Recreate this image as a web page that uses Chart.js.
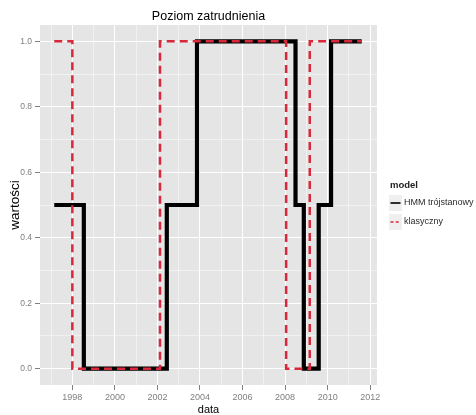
<!DOCTYPE html>
<html>
<head>
<meta charset="utf-8">
<script src="https://cdn.jsdelivr.net/npm/chart.js@4"></script>
<style>
  html, body { margin: 0; padding: 0; background: #ffffff; }
  #wrap { width: 476px; height: 415px; }
</style>
</head>
<body>
<div id="wrap"><canvas id="c" width="476" height="415"></canvas></div>
<script>
// ---- data ----
const chartTitle = "Poziom zatrudnienia";
const xTitle = "data";
const yTitle = "wartości";
const legendTitle = "model";
const seriesNames = ["HMM trójstanowy", "klasyczny"];

// step change dates (decimal years) and the value that holds from that date on
const hmmDates  = [1997.15, 1998.54, 2002.44, 2003.86, 2008.49, 2008.88, 2009.58, 2010.16, 2011.6];
const hmmValues = [0.5,     0.0,     0.5,     1.0,     0.5,     0.0,     0.5,     1.0,     1.0];

const classicDates  = [1997.15, 1998.0, 2002.12, 2008.05, 2009.16, 2011.6];
const classicValues = [1.0,     0.0,    1.0,     0.0,     1.0,     1.0];

const xTickYears = [1997, 1998, 1999, 2000, 2001, 2002, 2003, 2004, 2005, 2006, 2007, 2008, 2009, 2010, 2011, 2012];
const yTickValues = [0, 0.1, 0.2, 0.3, 0.4, 0.5, 0.6, 0.7, 0.8, 0.9, 1.0];

const FONT = "'Liberation Sans', Arial, Helvetica, sans-serif";
const RED = "#d8283c";

function toPoints(xs, ys) { return xs.map((x, i) => ({ x: x, y: ys[i] })); }
function isMajorX(v) { return Math.round(v) % 2 === 0; }
function isMajorY(v) { return Math.round(v * 10) % 2 === 0; }

const panelPlugin = {
  id: 'panel',
  beforeDraw(chart) {
    const a = chart.chartArea, ctx = chart.ctx;
    ctx.save();
    ctx.fillStyle = '#e5e5e5';
    ctx.fillRect(a.left, a.top, a.right - a.left, a.bottom - a.top);
    ctx.restore();
  },
  afterDraw(chart) {
    // legend (ggplot style, to the right of the panel)
    const a = chart.chartArea, ctx = chart.ctx;
    const cy = (a.top + a.bottom) / 2;
    const x0 = a.right + 12;
    ctx.save();
    ctx.textBaseline = 'middle';
    ctx.textAlign = 'left';
    ctx.fillStyle = '#222';
    ctx.font = "bold 9.5px " + FONT;
    ctx.fillText(legendTitle, x0 + 1, cy - 20);
    const rows = [cy - 2, cy + 17];
    const ds = chart.data.datasets;
    rows.forEach((ry, i) => {
      ctx.fillStyle = '#efefef';
      ctx.fillRect(x0, ry - 8, 13, 16);
      ctx.beginPath();
      ctx.lineWidth = 1.6;
      ctx.strokeStyle = ds[i].borderColor;
      ctx.setLineDash(i === 1 ? [3, 2.2] : []);
      ctx.moveTo(x0 + 1.5, ry);
      ctx.lineTo(x0 + 11.5, ry);
      ctx.stroke();
      ctx.setLineDash([]);
      ctx.fillStyle = '#2a2a2a';
      ctx.font = "9px " + FONT;
      ctx.fillText(ds[i].label, x0 + 15, ry);
    });
    ctx.restore();
  }
};

new Chart(document.getElementById('c'), {
  type: 'line',
  data: {
    datasets: [
      {
        label: seriesNames[0],
        data: toPoints(hmmDates, hmmValues),
        borderColor: '#000000',
        borderWidth: 4.2,
        stepped: true,
        pointRadius: 0,
        fill: false,
        borderJoinStyle: 'miter',
        borderCapStyle: 'butt',
        order: 1
      },
      {
        label: seriesNames[1],
        data: toPoints(classicDates, classicValues),
        borderColor: RED,
        borderWidth: 2.5,
        borderDash: [8, 5],
        stepped: true,
        pointRadius: 0,
        fill: false,
        borderJoinStyle: 'miter',
        order: 0
      }
    ]
  },
  options: {
    responsive: false,
    animation: false,
    devicePixelRatio: 1,
    layout: { padding: { left: 0, right: 99, top: 0, bottom: 0 } },
    plugins: {
      legend: { display: false },
      tooltip: { enabled: false },
      title: {
        display: true,
        text: chartTitle,
        fullSize: false,
        color: '#000',
        font: { family: FONT, size: 12.5, weight: 'normal', lineHeight: 1.2 },
        padding: { top: 9, bottom: 1 }
      }
    },
    scales: {
      x: {
        type: 'linear',
        min: 1996.48,
        max: 2012.32,
        afterBuildTicks(scale) { scale.ticks = xTickYears.map(v => ({ value: v })); },
        afterFit(scale) { scale.height = 30; },
        border: { display: false },
        grid: {
          color: c => isMajorX(c.tick.value) ? '#ffffff' : 'rgba(255,255,255,0.45)',
          lineWidth: 1,
          drawTicks: true,
          tickLength: 5,
          tickColor: c => isMajorX(c.tick.value) ? '#7f7f7f' : 'rgba(0,0,0,0)'
        },
        ticks: {
          autoSkip: false,
          maxRotation: 0,
          padding: 2,
          color: '#7f7f7f',
          font: { family: FONT, size: 9 },
          callback: v => isMajorX(v) ? String(Math.round(v)) : ''
        },
        title: {
          display: true,
          text: xTitle,
          color: '#000',
          font: { family: FONT, size: 11, lineHeight: 1 },
          padding: { top: 0, bottom: 0 }
        }
      },
      y: {
        type: 'linear',
        min: -0.05,
        max: 1.05,
        afterBuildTicks(scale) { scale.ticks = yTickValues.map(v => ({ value: v })); },
        afterFit(scale) { scale.width = 40; },
        border: { display: false },
        grid: {
          color: c => isMajorY(c.tick.value) ? '#ffffff' : 'rgba(255,255,255,0.45)',
          lineWidth: 1,
          drawTicks: true,
          tickLength: 5,
          tickColor: c => isMajorY(c.tick.value) ? '#7f7f7f' : 'rgba(0,0,0,0)'
        },
        ticks: {
          autoSkip: false,
          padding: 3,
          color: '#7f7f7f',
          font: { family: FONT, size: 8.5 },
          callback: v => isMajorY(v) ? v.toFixed(1) : ''
        },
        title: {
          display: true,
          text: yTitle,
          color: '#000',
          font: { family: FONT, size: 13.5, lineHeight: 1 },
          padding: { top: 8.25, bottom: 0 }
        }
      }
    }
  },
  plugins: [panelPlugin]
});
</script>
</body>
</html>
